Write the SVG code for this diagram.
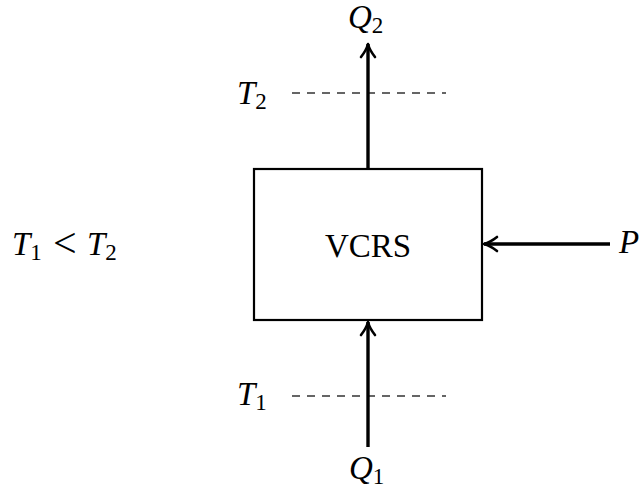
<svg xmlns="http://www.w3.org/2000/svg" width="641" height="489" viewBox="0 0 641 489">
<style>
.m{font-family:"Liberation Serif","DejaVu Serif",serif;font-style:italic;font-size:33px;fill:#000}
.r{font-family:"Liberation Serif","DejaVu Serif",serif;font-style:normal;font-size:33px;fill:#000}
.s{font-size:23px;font-style:normal}
.lt{font-size:42px;font-style:normal}
.dash{stroke:#333;stroke-width:1.3;stroke-dasharray:8 7;fill:none}
.arr{stroke:#000;stroke-width:3.4;fill:none;marker-end:url(#to)}
</style>
<defs>
<marker id="to" markerUnits="userSpaceOnUse" viewBox="-16 -9 18 18" refX="0" refY="0" markerWidth="18" markerHeight="18" orient="auto" overflow="visible">
<path d="M-13,-7 Q-6,-1.5 0,0 Q-6,1.5 -13,7" fill="none" stroke="#000" stroke-width="2.6" stroke-linecap="round" stroke-linejoin="round"/>
</marker>
</defs>
<g id="box">
<rect x="254" y="169" width="228" height="151" fill="#fff" stroke="#000" stroke-width="2.2"/>
<text class="r" x="368" y="257" text-anchor="middle">VCRS</text>
</g>
<g id="t2-line">
<line class="dash" x1="292" y1="93" x2="446" y2="93"/>
<text class="m" x="237" y="104">T<tspan class="s" dy="5">2</tspan></text>
</g>
<g id="t1-line">
<line class="dash" x1="292" y1="396" x2="446" y2="396"/>
<text class="m" x="237" y="405">T<tspan class="s" dy="5">1</tspan></text>
</g>
<g id="q2"><text class="m" x="348" y="28">Q<tspan class="s" dy="5">2</tspan></text></g>
<g id="q1"><text class="m" x="349" y="479">Q<tspan class="s" dy="5">1</tspan></text></g>
<g id="p"><text class="m" x="619" y="253">P</text></g>
<g id="cond"><text class="m" x="12" y="255">T<tspan class="s" dy="5">1</tspan><tspan class="lt" x="53" dy="-3">&lt;</tspan><tspan x="87" dy="-2">T</tspan><tspan class="s" dy="5">2</tspan></text></g>
<g id="connectors">
<line class="arr" x1="368" y1="169" x2="368" y2="44"/>
<line class="arr" x1="368" y1="447" x2="368" y2="322"/>
<line class="arr" x1="610" y1="244" x2="484" y2="244"/>
</g>
</svg>
